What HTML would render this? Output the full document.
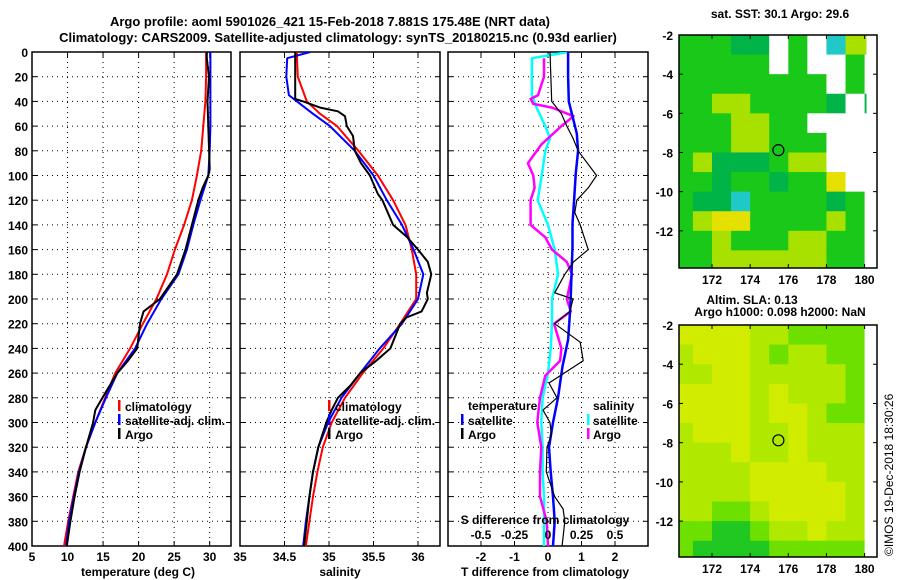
<!DOCTYPE html>
<html><head><meta charset="utf-8"><style>
html,body{margin:0;padding:0;background:#fff;}
svg{display:block;font-family:"Liberation Sans",Arial,sans-serif;font-weight:bold;}
text{font-size:12px;fill:#000;}
</style></head><body>
<svg id="fig" width="900" height="580" viewBox="0 0 900 580" xmlns="http://www.w3.org/2000/svg">
<text x="330" y="26" text-anchor="middle" style="font-size:13px">Argo profile: aoml 5901026_421 15-Feb-2018 7.881S 175.48E (NRT data)</text>
<text x="338" y="42" text-anchor="middle" style="font-size:13px">Climatology: CARS2009. Satellite-adjusted climatology: synTS_20180215.nc (0.93d earlier)</text>
<text x="780" y="18" text-anchor="middle">sat. SST: 30.1 Argo: 29.6</text>
<text x="752" y="304" text-anchor="middle">Altim. SLA: 0.13</text>
<text x="780" y="316" text-anchor="middle">Argo h1000: 0.098 h2000: NaN</text>
<text transform="translate(893,556) rotate(-90)" style="font-weight:normal;font-size:12px">©IMOS 19-Dec-2018 18:30:26</text>
<g id="layer"></g>
</svg>
<script>
// ---- data ----
const depthTicks = [0,20,40,60,80,100,120,140,160,180,200,220,240,260,280,300,320,340,360,380,400];
const tempTicks = [5,10,15,20,25,30];
const salTicks = [34,34.5,35,35.5,36];
const salTickLabels = ["34","34.5","35","35.5","36"];
const tdTicks = [-2,-1,0,1,2];
const sdTicks = [-0.5,-0.25,0,0.25,0.5];
const sdTickLabels = ["-0.5","-0.25","0","0.25","0.5"];

const tClimDepth = [0,20,40,60,80,100,120,140,160,180,200,220,240,260,280,300,320,340,360,380,400];
const tClim = [29.5,29.5,29.4,29.1,28.8,28.2,27.5,26.4,25.1,24.0,22.5,20.6,18.8,16.7,15.3,13.9,12.6,11.5,10.8,10.1,9.5];
const tSat = [30.1,30.1,30.1,30.1,30.0,29.8,28.7,27.7,26.8,25.6,23.2,21.2,19.5,17.0,15.4,13.9,12.6,11.6,10.9,10.2,9.8];
const tArgoDepth = [0,5,20,40,60,95,100,110,120,140,160,180,200,210,220,240,250,260,280,290,300,320,340,360,380,400];
const tArgo = [29.6,29.6,29.9,29.7,29.8,30.0,29.8,29.0,28.4,27.5,26.6,25.4,23.0,20.7,20.2,19.8,18.5,17.0,14.9,13.9,13.6,12.6,11.7,11.0,10.4,9.9];

const sClimDepth = [0,5,20,40,50,60,80,100,120,140,160,180,200,220,240,260,280,300,320,340,360,380,400];
const sClim = [34.64,34.64,34.65,34.75,34.9,35.09,35.33,35.55,35.72,35.86,35.93,35.98,35.98,35.80,35.61,35.38,35.18,35.03,34.93,34.87,34.82,34.78,34.74];
const sSatDepth = [0,5,20,35,40,50,60,80,100,120,140,160,180,200,220,240,260,280,300,320,340,360,380,400];
const sSat = [34.79,34.53,34.52,34.55,34.64,34.82,35.01,35.29,35.5,35.65,35.82,35.95,36.06,36.0,35.82,35.57,35.35,35.14,34.99,34.88,34.82,34.78,34.74,34.71];
const sArgoDepth = [0,5,20,38,40,45,48,52,60,68,80,90,100,115,120,140,150,160,170,180,195,200,210,215,220,240,250,260,270,280,290,300,320,340,360,380,400];
const sArgo = [34.62,34.62,34.62,34.62,34.71,34.9,35.1,35.18,35.2,35.27,35.29,35.36,35.46,35.55,35.6,35.72,35.88,36.0,36.11,36.15,36.1,36.11,36.04,35.87,35.8,35.69,35.53,35.35,35.24,35.1,35.03,34.97,34.88,34.82,34.78,34.75,34.72];

const tSatDiffDepth = [0,20,40,66,80,98,120,139,158,180,206,233,255,280,300,320,340,360,380,400];
const tSatDiff = [0.6,0.6,0.62,0.86,0.9,0.83,0.78,0.73,0.73,0.7,0.67,0.6,0.43,0.3,0.15,0.03,0.08,0.15,0.2,0.15];
const tArgoDiffDepth = [0,40,50,60,70,80,100,110,120,130,140,160,170,180,195,200,210,220,235,250,268,280,290,300,310,320,340,360,370,380,400];
const tArgoDiff = [0.06,0.11,0.4,0.56,0.75,0.9,1.45,1.2,0.86,0.8,0.96,1.2,0.76,0.5,0.2,0.75,0.65,0.2,0.96,1.05,0.03,0.27,-0.15,0.06,0.1,-0.03,-0.05,0.2,0.45,0.5,0.42];
const sSatDiffDepth = [0,5,20,35,45,60,70,80,100,120,140,160,180,200,220,240,260,280,300,320,340,360,380,400];
const sSatDiff = [0.15,-0.12,-0.12,-0.12,-0.085,-0.02,0.015,-0.02,-0.047,-0.077,0,0.05,0.075,0.03,0.03,0.02,0,-0.04,-0.05,-0.04,-0.04,-0.03,-0.03,-0.03];
const sArgoDiffDepth = [5,20,35,38,42,45,52,60,75,90,100,110,120,140,150,160,170,180,200,210,220,240,250,262,280,290,300,320,340,360,380,400];
const sArgoDiff = [-0.03,-0.03,-0.075,-0.13,-0.11,0.03,0.19,0.1,-0.05,-0.15,-0.11,-0.1,-0.13,-0.13,-0.02,0.03,0.14,0.18,0.14,0.17,0.045,0.1,0.09,-0.02,-0.06,-0.07,-0.08,-0.05,-0.06,-0.06,-0.01,0];

const lonTicks = [172,174,176,178,180];
const latTicks = [-2,-4,-6,-8,-10,-12];
// 1-degree cells, rows lat -2..-14, cols lon 170..180
const sstGrid = ["gggddwgwcyy","gggggwgwwgw","ggggggggwgw","ggyyggggdwd","gggyyggwwww","gggyygggwww","gydddgyywww","ggdggdggYww","gddcggggdgw","gyYYggggygw","ggygggyyggw","ggyyyyyyggw"];
const slaGrid = ["YYYYLLGGGGw","LYYYLGLLGGw","LLYYLLLLLGw","YYYYLYLLLGw","YYYYLYYLGGw","LYYYLLYLLLw","LLLYLLYLLLw","LLLLYYYYLLw","LLLLYYYYYLw","LLGGLYYYYLw","GGDDGLLYLLw","GDDDDGGGGGw"];
const argoLon = 175.48, argoLat = -7.881;

// ---- helpers ----
const NS = "http://www.w3.org/2000/svg";
const layer = document.getElementById("layer");
function mk(tag, attrs, parent) {
  const e = document.createElementNS(NS, tag);
  for (const k in attrs) e.setAttribute(k, attrs[k]);
  (parent || layer).appendChild(e);
  return e;
}
const yTop = 52, yBot = 546;
const yD = d => yTop + (d / 400) * (yBot - yTop);
function lin(d0, d1, r0, r1) { return v => r0 + (v - d0) / (d1 - d0) * (r1 - r0); }

function panel(name, x0, x1, xs, ticks, labels, showY) {
  const g = mk("g", {});
  
  
  ticks.forEach(t => {
    const x = xs(t);
    if (x > x0 + 1 && x < x1 - 1) {
      const l = mk("line", {x1: x, x2: x, y1: yTop, y2: yBot, stroke: "#000", "stroke-width": 1, "stroke-dasharray": "1,4"}, g);
      
      
    }
    mk("line", {x1: x, x2: x, y1: yBot, y2: yBot - 5, stroke: "#000"}, g);
    mk("line", {x1: x, x2: x, y1: yTop, y2: yTop + 5, stroke: "#000"}, g);
  });
  depthTicks.forEach((d, i) => {
    const y = yD(d);
    if (i > 0 && i < depthTicks.length - 1) {
      const l = mk("line", {x1: x0, x2: x1, y1: y, y2: y, stroke: "#000", "stroke-width": 1, "stroke-dasharray": "1,4"}, g);
      
      
    }
    mk("line", {x1: x0, x2: x0 + 5, y1: y, y2: y, stroke: "#000"}, g);
    mk("line", {x1: x1, x2: x1 - 5, y1: y, y2: y, stroke: "#000"}, g);
    if (showY) {
      const t = mk("text", {x: 28, y: y + 5, "text-anchor": "end"}, g);
      t.textContent = d;
      
      
    }
  });
  if (labels) ticks.forEach((t, i) => {
    const tx = mk("text", {x: xs(t), y: 561, "text-anchor": "middle"}, g);
    tx.textContent = labels[i];
    
    
  });
  const b = mk("rect", {x: x0, y: yTop, width: x1 - x0, height: yBot - yTop, fill: "none", stroke: "#000", "stroke-width": 1.5}, g);
  
  
  return g;
}
function curve(g, name, depths, vals, xs, color, w, clipId) {
  const pts = depths.map((d, i) => xs(vals[i]).toFixed(1) + "," + yD(d).toFixed(1)).join(" ");
  const p = mk("polyline", {points: pts, fill: "none", stroke: color, "stroke-width": w, "stroke-linejoin": "round", "clip-path": "url(#" + clipId + ")"}, g);
  
  
}
function clip(id, x, y, w, h) {
  const c = mk("clipPath", {id: id});
  mk("rect", {x: x, y: y, width: w, height: h}, c);
}
function text(g, name, x, y, s, anchor) {
  const t = mk("text", {x: x, y: y, "text-anchor": anchor || "start"}, g);
  t.textContent = s;
  
  
  return t;
}
function legendMark(g, name, x, y, color) {
  const r = mk("rect", {x: x, y: y - 10, width: 2.5, height: 11, fill: color}, g);
  
  
}

// ---- panel 1 temperature ----
const xT = lin(5, 33, 32, 231);
const p1 = panel("temperature-panel", 32, 231, xT, tempTicks, tempTicks.map(String), true);
clip("c1", 32, yTop, 199, yBot - yTop);
curve(p1, "temp-climatology-line", tClimDepth, tClim, xT, "#f00", 2, "c1");
curve(p1, "temp-satellite-line", tClimDepth, tSat, xT, "#00f", 2, "c1");
curve(p1, "temp-argo-line", tArgoDepth, tArgo, xT, "#000", 2, "c1");
text(p1, "x-tick-label", 240, 561, "35", "middle");
text(p1, "temp-axis-title", 138, 576, "temperature (deg C)", "middle");
legendMark(p1, "legend-mark-climatology", 118, 410, "#f00"); text(p1, "legend-climatology", 125, 411, "climatology");
legendMark(p1, "legend-mark-satellite", 118, 424, "#00f"); text(p1, "legend-satellite", 125, 425, "satellite-adj. clim.");
legendMark(p1, "legend-mark-argo", 118, 438, "#000"); text(p1, "legend-argo", 125, 439, "Argo");

// ---- panel 2 salinity ----
const xS = lin(34, 36, 240, 418);
const p2 = panel("salinity-panel", 240, 440, xS, salTicks, null, false);
salTicks.forEach((t, i) => { if (i > 0) text(p2, "x-tick-label", xS(t), 561, salTickLabels[i], "middle"); });
clip("c2", 240, yTop, 200, yBot - yTop);
curve(p2, "sal-climatology-line", sClimDepth, sClim, xS, "#f00", 2, "c2");
curve(p2, "sal-satellite-line", sSatDepth, sSat, xS, "#00f", 2, "c2");
curve(p2, "sal-argo-line", sArgoDepth, sArgo, xS, "#000", 2, "c2");
text(p2, "sal-axis-title", 340, 576, "salinity", "middle");
legendMark(p2, "legend-mark-climatology", 328, 410, "#f00"); text(p2, "legend-climatology", 335, 411, "climatology");
legendMark(p2, "legend-mark-satellite", 328, 424, "#00f"); text(p2, "legend-satellite", 335, 425, "satellite-adj. clim.");
legendMark(p2, "legend-mark-argo", 328, 438, "#000"); text(p2, "legend-argo", 335, 439, "Argo");

// ---- panel 3 differences ----
const xTD = lin(-3, 3, 447.5, 648.5);
const xSD = lin(-0.75, 0.75, 447.5, 648.5);
const p3 = panel("difference-panel", 448, 648, xTD, tdTicks, tdTicks.map(String), false);
clip("c3", 448, yTop, 200, yBot - yTop);
curve(p3, "sal-satellite-diff-line", sSatDiffDepth, sSatDiff, xSD, "#0ff", 2.5, "c3");
curve(p3, "sal-argo-diff-line", sArgoDiffDepth, sArgoDiff, xSD, "#f0f", 2.5, "c3");
curve(p3, "temp-satellite-diff-line", tSatDiffDepth, tSatDiff, xTD, "#00f", 2.5, "c3");
curve(p3, "temp-argo-diff-line", tArgoDiffDepth, tArgoDiff, xTD, "#000", 1.2, "c3");
text(p3, "s-diff-axis-title", 545, 524, "S difference from climatology", "middle");
sdTicks.forEach((t, i) => text(p3, "s-diff-tick-label", xSD(t), 539, sdTickLabels[i], "middle"));
text(p3, "t-diff-axis-title", 545, 576, "T difference from climatology", "middle");
text(p3, "legend-temperature-header", 468, 410, "temperature");
legendMark(p3, "legend-mark-temp-satellite", 461, 424, "#00f"); text(p3, "legend-temp-satellite", 468, 425, "satellite");
legendMark(p3, "legend-mark-temp-argo", 461, 438, "#000"); text(p3, "legend-temp-argo", 468, 439, "Argo");
text(p3, "legend-salinity-header", 593, 410, "salinity");
legendMark(p3, "legend-mark-sal-satellite", 587, 424, "#0ff"); text(p3, "legend-sal-satellite", 593, 425, "satellite");
legendMark(p3, "legend-mark-sal-argo", 587, 438, "#f0f"); text(p3, "legend-sal-argo", 593, 439, "Argo");

// ---- maps ----
const colSST = {g: "#19c819", d: "#00b448", y: "#a8e000", Y: "#e6e000", c: "#20c8c8", w: "#ffffff"};
const colSLA = {Y: "#d2ec00", L: "#b0e800", G: "#6ee000", D: "#22c822", w: "#ffffff"};
function map(name, grid, cols, y0, y1, latBot) {
  const g = mk("g", {});
  
  
  const x0 = 679, x1 = 877;
  const xL = lin(170.27, 180.65, x0, x1);
  const yL = lin(-2, latBot, y0, y1);
  const cid = "clip-" + name;
  clip(cid, x0, y0, x1 - x0, y1 - y0);
  grid.forEach((row, r) => {
    for (let c = 0; c < row.length; c++) {
      const lon0 = 170 + c, lat0 = -2 - r;
      let lonE = lon0 + 1;
      if (c === 10) lonE = row[c] === "w" ? 181 : 180.1;
      const xa = xL(lon0), xb = xL(lonE);
      const cell = mk("rect", {x: xa, y: yL(lat0), width: xb - xa + 0.5, height: yL(lat0 - 1) - yL(lat0) + 0.5, fill: cols[row[c]], "clip-path": "url(#" + cid + ")"}, g);
      
      
    }
  });
  const ws = mk("rect", {x: xL(180.1), y: y0, width: x1 - xL(180.1), height: y1 - y0, fill: "#fff"}, g);
  
  
  const fr = mk("rect", {x: x0, y: y0, width: x1 - x0, height: y1 - y0, fill: "none", stroke: "#000", "stroke-width": 1.5}, g);
  
  
  lonTicks.forEach(t => {
    mk("line", {x1: xL(t), x2: xL(t), y1: y1, y2: y1 - 4, stroke: "#000"}, g);
    mk("line", {x1: xL(t), x2: xL(t), y1: y0, y2: y0 + 4, stroke: "#000"}, g);
    text(g, "lon-tick-label", xL(t), y1 + 16, String(t), "middle");
  });
  latTicks.forEach(t => {
    mk("line", {x1: x0, x2: x0 + 4, y1: yL(t), y2: yL(t), stroke: "#000"}, g);
    mk("line", {x1: x1, x2: x1 - 4, y1: yL(t), y2: yL(t), stroke: "#000"}, g);
    text(g, "lat-tick-label", 673, yL(t) + 5, String(t), "end");
  });
  const m = mk("circle", {cx: xL(argoLon), cy: yL(argoLat), r: 5.5, fill: "none", stroke: "#000", "stroke-width": 1.2}, g);
  
  
}
map("sst-map", sstGrid, colSST, 35, 268, -13.9);
map("sla-map", slaGrid, colSLA, 325, 557, -13.83);
</script>
</body></html>
